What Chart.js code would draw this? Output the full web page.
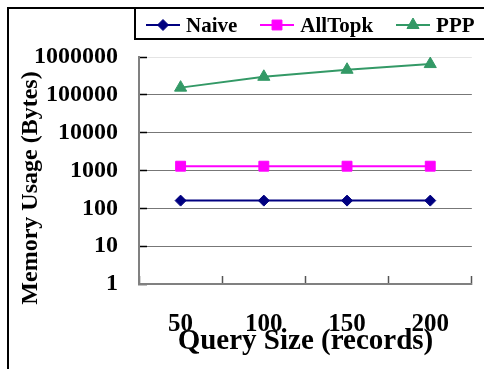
<!DOCTYPE html>
<html>
<head>
<meta charset="utf-8">
<script src="https://cdn.jsdelivr.net/npm/chart.js@4/dist/chart.umd.min.js"></script>
<style>
  html, body { margin: 0; padding: 0; background: #fff; }
  #wrap { position: relative; width: 484px; height: 369px; overflow: hidden; background: #fff; }
  #c { position: absolute; left: 0; top: 0; }
  #frame { position: absolute; left: 7px; top: 7px; width: 600px; height: 500px;
           border-left: 2px solid #000; border-top: 2px solid #000; pointer-events: none; }
  #legend { position: absolute; left: 134px; top: 7px; width: 400px; height: 26px; padding-top: 3px;
            border: 2px solid #000; border-right: none; display: flex; align-items: center;
            padding-left: 10px; font: bold 21px "Liberation Serif", "Times New Roman", serif; color: #000; }
  .item { display: flex; align-items: center; margin-right: 23px; }
  .item canvas { margin-right: 6px; }
  #ytitle { position: absolute; left: 29px; top: 188px; transform: translate(-50%, -50%) rotate(-90deg);
            font: bold 24px "Liberation Serif", "Times New Roman", serif; white-space: nowrap; color: #000; }
</style>
</head>
<body>
<div id="wrap">
  <canvas id="c" width="484" height="369"></canvas>
  <div id="frame"></div>
  <div id="legend"></div>
  <div id="ytitle">Memory Usage (Bytes)</div>
</div>
<script>
// Query sizes (records) and memory usage per method, in bytes
const categories = ['50', '100', '150', '200'];
const naive = [160, 160, 160, 160];
const allTopk = [1300, 1300, 1300, 1300];
const ppp = [155000, 300000, 460000, 650000];
const yTicks = [1, 10, 100, 1000, 10000, 100000, 1000000];
const seriesNames = ['Naive', 'AllTopk', 'PPP'];

const SERIF = '"Liberation Serif", "Times New Roman", serif';

const styles = [
  { color: '#000080', pointStyle: 'rectRot', radius: 5.5 },
  { color: '#FF00FF', pointStyle: 'rect', radius: 7 },
  { color: '#339966', pointStyle: 'triangle', radius: 7 }
];
const values = [naive, allTopk, ppp];

const datasets = seriesNames.map((name, i) => ({
  label: name,
  data: values[i],
  borderColor: styles[i].color,
  backgroundColor: styles[i].color,
  pointBackgroundColor: styles[i].color,
  pointBorderColor: styles[i].color,
  pointStyle: styles[i].pointStyle,
  pointRadius: styles[i].radius,
  pointBorderWidth: 1,
  borderWidth: 2,
  tension: 0,
  fill: false
}));

const chart = new Chart(document.getElementById('c'), {
  type: 'line',
  data: { labels: categories, datasets },
  options: {
    responsive: false,
    animation: false,
    layout: { padding: { left: 5, top: 57, right: 3, bottom: 0 } },
    plugins: { legend: { display: false }, tooltip: { enabled: false } },
    scales: {
      x: {
        type: 'category',
        offset: true,
        grid: { offset: true, drawOnChartArea: false, tickLength: -8, tickColor: '#555', tickWidth: 1.5 },
        border: { color: '#808080', width: 2 },
        ticks: { padding: 34, color: '#000', maxRotation: 0, autoSkip: false,
                 font: { family: SERIF, size: 25, weight: 'bold' } },
        title: { display: true, text: 'Query Size (records)', color: '#000',
                 font: { family: SERIF, size: 29, weight: 'bold' },
                 padding: { top: -49.4, bottom: 9.6 } }
      },
      y: {
        type: 'logarithmic',
        min: 1,
        max: 1000000,
        afterBuildTicks: scale => { scale.ticks = yTicks.map(v => ({ value: v })); },
        grid: {
          color: c => (c.tick && c.tick.value === 1000000) ? '#e4e4e4' : '#777',
          lineWidth: 1,
          tickLength: -8,
          tickColor: '#000',
          tickWidth: 1.5
        },
        border: { color: '#808080', width: 2 },
        ticks: { padding: 29, color: '#000', autoSkip: false,
                 callback: v => String(v),
                 font: { family: SERIF, size: 24, weight: 'bold' } }
      }
    }
  }
});

// Legend: line sample with the series marker, followed by its name
const legend = document.getElementById('legend');
datasets.forEach(ds => {
  const item = document.createElement('div');
  item.className = 'item';
  const cv = document.createElement('canvas');
  cv.width = 34; cv.height = 16;
  const g = cv.getContext('2d');
  g.strokeStyle = ds.borderColor;
  g.lineWidth = 2;
  g.beginPath(); g.moveTo(0, 8); g.lineTo(34, 8); g.stroke();
  g.fillStyle = ds.pointBackgroundColor;
  g.strokeStyle = ds.pointBorderColor;
  g.lineWidth = 1;
  Chart.helpers.drawPoint(g, { pointStyle: ds.pointStyle, radius: ds.pointRadius, rotation: 0, borderWidth: 1 }, 17, 8);
  const label = document.createElement('span');
  label.textContent = ds.label;
  item.appendChild(cv);
  item.appendChild(label);
  legend.appendChild(item);
});
</script>
</body>
</html>
